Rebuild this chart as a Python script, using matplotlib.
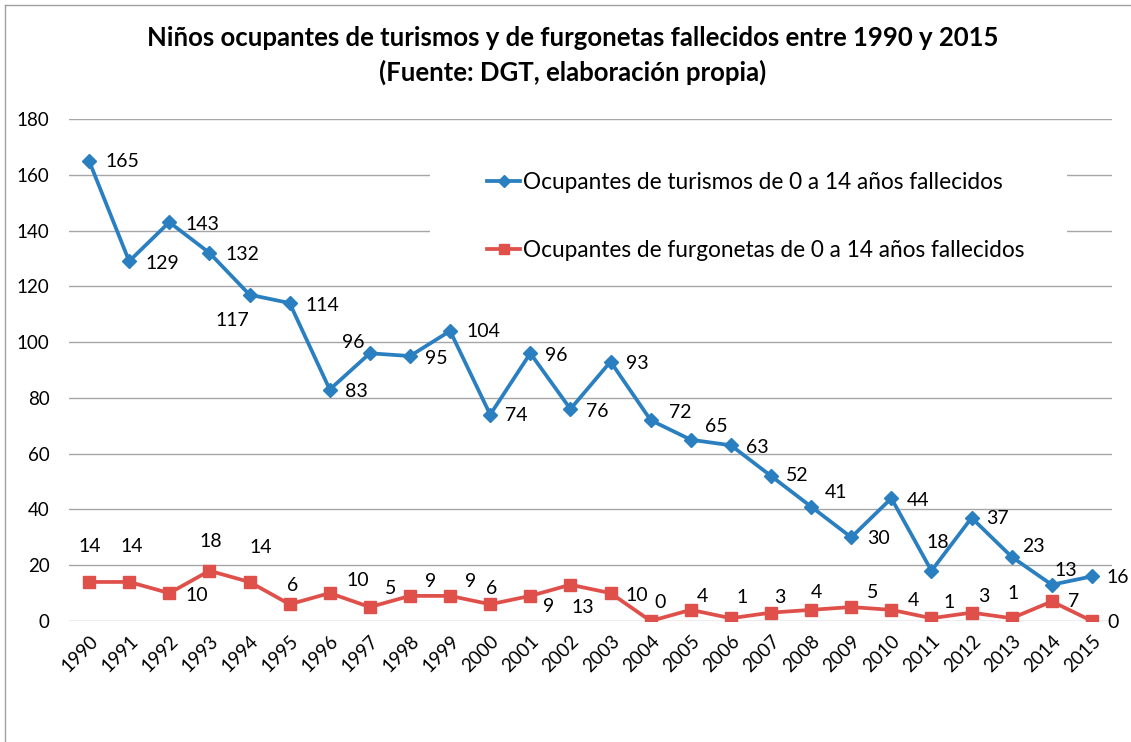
import matplotlib.pyplot as plt
from matplotlib.lines import Line2D
from matplotlib.patches import Rectangle

plt.rcParams['font.family'] = ['Lato', 'DejaVu Sans']

# ==============================
# DATA
# ==============================
years = [str(y) for y in range(1990, 2016)]
turismos = [165, 129, 143, 132, 117, 114, 83, 96, 95, 104, 74, 96, 76, 93,
            72, 65, 63, 52, 41, 30, 44, 18, 37, 23, 13, 16]
furgonetas = [14, 14, 10, 18, 14, 6, 10, 5, 9, 9, 6, 9, 13, 10,
              0, 4, 1, 3, 4, 5, 4, 1, 3, 1, 7, 0]
yticks = [0, 20, 40, 60, 80, 100, 120, 140, 160, 180]

label_turismos = "Ocupantes de turismos de 0 a 14 años fallecidos"
label_furgonetas = "Ocupantes de furgonetas de 0 a 14 años fallecidos"

# desplazamiento de etiquetas (px, borde izq. / centro vertical, + hacia abajo)
off_t = [(16, 1), (16, 2), (16, 2), (16, 2), (-34, 26), (16, 2), (15, 2),
         (-28, -11), (15, 2), (16, 1), (15, 1), (15, 2), (16, 2), (15, 2),
         (18, -8), (14, -13), (15, 2), (15, 0), (14, -14), (16, 1), (15, 2),
         (-5, -28), (15, 1), (10, -10), (3, -14), (15, 1)]
off_f = [(-11, -35), (-9, -35), (16, 2), (-10, -29), (0, -34), (-3, -19),
         (17, -13), (15, -19), (15, -14), (15, -14), (-4, -16), (13, 11),
         (1, 23), (15, 2), (4, -19), (6, -13), (6, -21), (3, -15), (0, -17),
         (16, -15), (16, -9), (12, -16), (7, -16), (-4, -25), (16, 0), (15, 1)]

BLUE = "#2A7FC1"
RED = "#E0504B"

# ==============================
# FIGURE
# ==============================
fig = plt.figure(figsize=(11.31, 7.42), dpi=100)
W, H = 1131, 742
ax = fig.add_axes([69 / W, 1 - 621 / H, (1112 - 69) / W, (621 - 119) / H])

x = list(range(len(years)))
ax.plot(x, turismos, color=BLUE, lw=2.7, marker='D', ms=7.5,
        label=label_turismos, zorder=3)
ax.plot(x, furgonetas, color=RED, lw=2.7, marker='s', ms=8.5,
        label=label_furgonetas, zorder=3)

for i in x:
    dx, dy = off_t[i]
    ax.annotate(str(turismos[i]), (i, turismos[i]), xytext=(dx, -dy),
                textcoords='offset pixels', ha='left', va='center',
                fontsize=14, color='black', zorder=4)
    dx, dy = off_f[i]
    ax.annotate(str(furgonetas[i]), (i, furgonetas[i]), xytext=(dx, -dy),
                textcoords='offset pixels', ha='left', va='center',
                fontsize=14, color='black', zorder=4)

ax.set_xlim(-0.5, len(years) - 0.5)
ax.set_ylim(0, 180)
ax.set_yticks(yticks)
ax.set_xticks(x)
ax.set_xticklabels(years, rotation=45, ha='right', rotation_mode='anchor')
ax.tick_params(axis='y', length=0, pad=14, labelsize=13.5)
ax.tick_params(axis='x', length=0, pad=8, labelsize=13.5)
ax.grid(axis='y', color='#A6A6A6', lw=1)
ax.set_axisbelow(True)
for s in ax.spines.values():
    s.set_visible(False)

# fondo blanco de la leyenda (tapa la rejilla)
ax.add_patch(Rectangle((430 / W, 1 - 270 / H), (1067 - 430) / W, 120 / H,
                       transform=fig.transFigure, facecolor='white',
                       edgecolor='none', zorder=1))

# leyenda
leg = ax.legend(loc='center left', bbox_to_anchor=(476 / W, 1 - 216.5 / H),
                bbox_transform=fig.transFigure, frameon=False, fontsize=16.3,
                handlelength=1.45, handletextpad=0.12, labelspacing=2.05,
                borderpad=0, markerscale=0.8)

# titulo
fig.text(573 / W, 1 - 38 / H,
         "Niños ocupantes de turismos y de furgonetas fallecidos entre 1990 y 2015",
         ha='center', va='center', fontsize=18.5, fontweight='bold')
fig.text(573 / W, 1 - 72 / H, "(Fuente: DGT, elaboración propia)",
         ha='center', va='center', fontsize=18.5, fontweight='bold')

# marco del grafico
fig.add_artist(Line2D([5 / W, 5 / W], [0, 1 - 5 / H], color='#A0A0A0', lw=1))
fig.add_artist(Line2D([5 / W, 1], [1 - 5 / H, 1 - 5 / H], color='#A0A0A0', lw=1))

plt.savefig("out.png", dpi=100)
